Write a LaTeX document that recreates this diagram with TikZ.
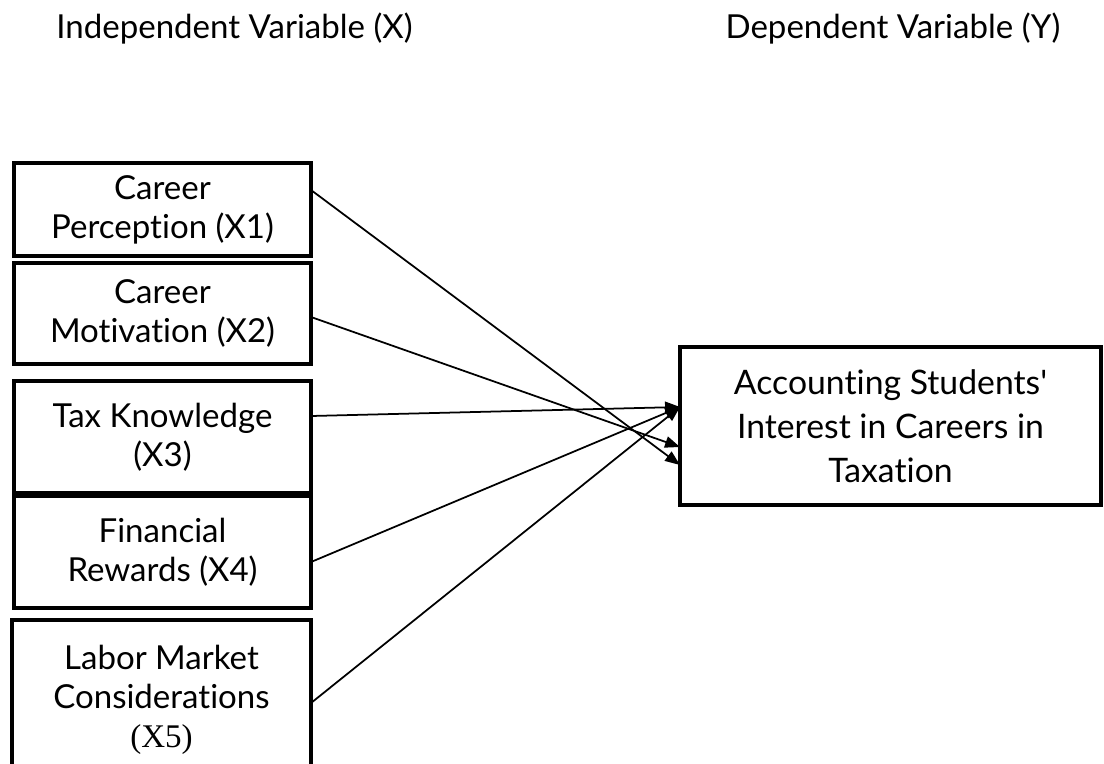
\documentclass[tikz,border=0pt]{standalone}
\usepackage{fontspec}
\setmainfont{Lato}[Ligatures={NoCommon}]
\newfontfamily\serifpart{Liberation Serif}
\usetikzlibrary{arrows.meta}

\tikzset{
  var/.style={draw, rectangle, line width=2.3pt, inner sep=0pt, outer sep=0pt,
    align=center, minimum width=5.94cm, font=\fontsize{18.8}{22.2}\selectfont},
  dep/.style={var, minimum width=8.42cm, minimum height=3.16cm, font=\fontsize{19.2}{25}\selectfont},
  head/.style={anchor=base, font=\fontsize{18.8}{22}\selectfont},
  link/.style={-{Triangle[length=8.5pt,width=6.5pt]}, line width=1pt},
}

\begin{document}
\begin{tikzpicture}
 \clip (0,0) rectangle (22.08,-15.26);
 \draw (4.69,-0.76) node[head] (indep) {Independent Variable (X)};
 \draw (17.86,-0.76) node[head] (depend) {Dependent Variable (Y)};

  \draw (3.25,-4.19) node[var, minimum height=1.86cm] (X1) {Career\\Perception (X1)};
  \draw (3.25,-6.27) node[var, minimum height=2.02cm] (X2) {Career\\Motivation (X2)};
  \draw (3.25,-8.74) node[var, minimum height=2.24cm] (X3) {Tax Knowledge\\(X3)};
  \draw (3.25,-11.04) node[var, minimum height=2.24cm] (X4) {Financial\\Rewards (X4)};
  \draw (3.23,-14.0) node[var, minimum width=5.98cm, minimum height=3.2cm] (X5) {Labor Market\\Considerations\\{\serifpart (X5)}};

  \draw (17.81,-8.52) node[dep] (Y) {Accounting Students\textquotesingle\\Interest in Careers in\\Taxation};

     % paths into Y
     \draw[link] ([yshift=0.39cm]X1.east) -- ([yshift=-0.78cm]Y.west);
     \draw[link] ([yshift=-0.07cm]X2.east) -- ([yshift=-0.42cm]Y.west);
     \draw[link] ([yshift=0.42cm]X3.east) -- ([yshift=0.38cm]Y.west);
     \draw[link] ([yshift=-0.2cm]X4.east) -- ([yshift=0.38cm]Y.west);
     \draw[link] ([yshift=-0.06cm]X5.east) -- ([yshift=0.38cm]Y.west);
\end{tikzpicture}
\end{document}
